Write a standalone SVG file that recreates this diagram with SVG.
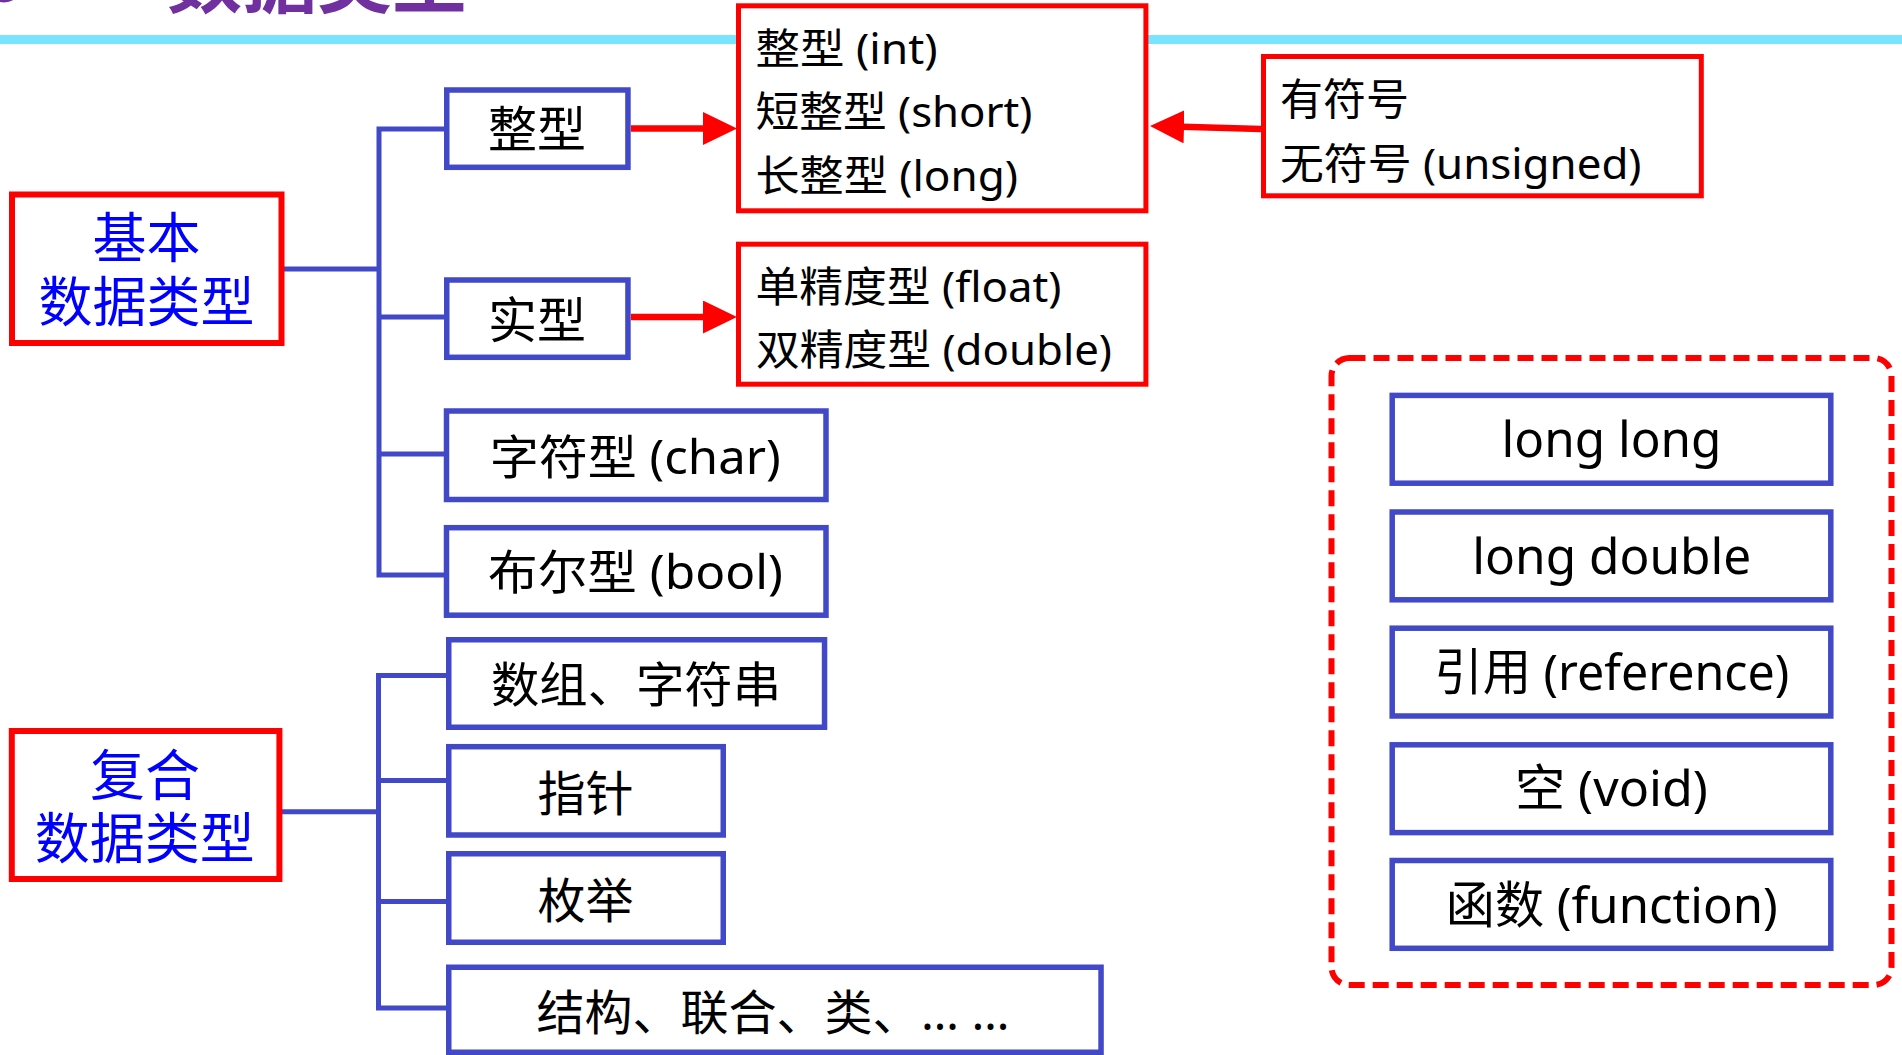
<svg xmlns="http://www.w3.org/2000/svg" width="1902" height="1055" viewBox="0 0 1902 1055">
<style>
text{font-family:"Noto Sans","Noto Sans CJK SC",sans-serif;fill:#000}
.blue{fill:#fff;stroke:#4149C8;stroke-width:5.5}
.red{fill:#fff;stroke:#FF0000;stroke-width:5}
.redb{fill:#fff;stroke:#FF0000;stroke-width:6}
.tree{fill:none;stroke:#4149C8;stroke-width:5;stroke-linecap:butt;stroke-linejoin:miter}
.arr{fill:none;stroke:#FF0000;stroke-width:6.5}
.cat{fill:#0000FF;font-size:54px;font-family:"Noto Sans CJK SC",sans-serif}
.c{text-anchor:middle}
</style>
<defs>
<marker id="head" markerUnits="userSpaceOnUse" viewBox="0 0 34 33" markerWidth="34" markerHeight="33" refX="2" refY="16.5" orient="auto">
<path d="M0,0 L34,16.5 L0,33 Z" fill="#FF0000"/>
</marker>
</defs>
<rect width="1902" height="1055" fill="#fff"/>
<g id="header">
<ellipse cx="4" cy="-16" rx="16" ry="16" fill="none" stroke="#7030A0" stroke-width="5"/>
<text x="167" y="6.5" style="font-size:76px;font-weight:700;fill:#7030A0;font-family:'Noto Sans CJK SC',sans-serif" textLength="300" lengthAdjust="spacingAndGlyphs">数据类型</text>
<rect x="0" y="35" width="1902" height="9" fill="#78E4FF"/>
</g>
<g id="connectors">
<path class="tree" d="M284,269 H379 M444,129 H379 V575 H444 M379,317 H444 M379,454 H444"/>
<path class="tree" d="M282,811.7 H378.5 M446,675.4 H378.5 V1008 H446 M378.5,780.5 H446 M378.5,901.5 H446"/>
<path class="arr" d="M631,128.5 H705" marker-end="url(#head)"/>
<path class="arr" d="M631,317 H705" marker-end="url(#head)"/>
<path class="arr" d="M1261,129 L1182,126.8" marker-end="url(#head)"/>
</g>
<g id="basic">
<rect class="redb" x="12" y="194.5" width="269.5" height="148.5"/>
<text class="cat c" x="146.6" y="258">基本</text>
<text class="cat c" x="146.5" y="322">数据类型</text>
</g>
<g id="compound">
<rect class="redb" x="11.8" y="731" width="267.6" height="148"/>
<text class="cat c" x="144.9" y="795" style="font-size:55px">复合</text>
<text class="cat c" x="144.8" y="858" style="font-size:55px">数据类型</text>
</g>
<g id="int">
<rect class="blue" x="446.75" y="90" width="181.2" height="77.3"/>
<text class="c" x="537" y="147" style="font-size:49px">整型</text>
</g>
<g id="real">
<rect class="blue" x="446.75" y="280" width="181.2" height="77.3"/>
<text class="c" x="537" y="338" style="font-size:49px">实型</text>
</g>
<g id="int-types">
<rect class="red" x="738.5" y="5.8" width="407.4" height="205"/>
<text x="755.5" y="63.5" style="font-size:42px" textLength="182" lengthAdjust="spacingAndGlyphs">整型 (int)</text>
<text x="755.5" y="127" style="font-size:42px" textLength="277" lengthAdjust="spacingAndGlyphs">短整型 (short)</text>
<text x="755.5" y="191" style="font-size:42px" textLength="262.5" lengthAdjust="spacingAndGlyphs">长整型 (long)</text>
</g>
<g id="real-types">
<rect class="red" x="738.5" y="244.2" width="407.4" height="140"/>
<text x="755.5" y="302" style="font-size:42px" textLength="306" lengthAdjust="spacingAndGlyphs">单精度型 (float)</text>
<text x="756" y="365" style="font-size:42px" textLength="356" lengthAdjust="spacingAndGlyphs">双精度型 (double)</text>
</g>
<g id="sign">
<rect class="red" x="1263.5" y="56.5" width="437.8" height="139.3"/>
<text x="1280" y="115" style="font-size:43px">有符号</text>
<text x="1280" y="178.5" style="font-size:42px" textLength="361.5" lengthAdjust="spacingAndGlyphs">无符号 (unsigned)</text>
</g>
<g id="char">
<rect class="blue" x="446.5" y="411" width="379.5" height="88.5"/>
<text class="c" x="635.2" y="474" style="font-size:47px" textLength="291" lengthAdjust="spacingAndGlyphs">字符型 (char)</text>
</g>
<g id="bool">
<rect class="blue" x="446.5" y="527.7" width="379.5" height="87.5"/>
<text class="c" x="635.5" y="589" style="font-size:47px" textLength="295" lengthAdjust="spacingAndGlyphs">布尔型 (bool)</text>
</g>
<g id="array">
<rect class="blue" x="448.75" y="639.75" width="375.8" height="87.5"/>
<text class="c" x="636" y="702" style="font-size:48px" textLength="290" lengthAdjust="spacingAndGlyphs">数组、字符串</text>
</g>
<g id="pointer">
<rect class="blue" x="448.75" y="746.7" width="274.5" height="88.3"/>
<text class="c" x="585.5" y="810.5" style="font-size:48px">指针</text>
</g>
<g id="enum">
<rect class="blue" x="448.75" y="853.75" width="274.5" height="88.5"/>
<text class="c" x="585.5" y="918" style="font-size:48px">枚举</text>
</g>
<g id="struct">
<rect class="blue" x="448.75" y="967.25" width="652.3" height="85"/>
<text x="536.5" y="1029.5" style="font-size:48px">结构、联合、类、<tspan x="921">… …</tspan></text>
</g>
<g id="extra">
<rect x="1331.5" y="358" width="560" height="627" rx="18" fill="none" stroke="#FF0000" stroke-width="6" stroke-dasharray="16 8"/>
<g id="longlong">
<rect class="blue" x="1392.2" y="395.4" width="438.6" height="87.8"/>
<text class="c" x="1611.5" y="457" style="font-size:50px" textLength="220" lengthAdjust="spacingAndGlyphs">long long</text>
</g>
<g id="longdouble">
<rect class="blue" x="1392.2" y="512" width="438.6" height="87.8"/>
<text class="c" x="1611.8" y="573.5" style="font-size:50px" textLength="279" lengthAdjust="spacingAndGlyphs">long double</text>
</g>
<g id="reference">
<rect class="blue" x="1392.2" y="628.2" width="438.6" height="87.8"/>
<text class="c" x="1611.8" y="689.5" style="font-size:50px" textLength="355" lengthAdjust="spacingAndGlyphs">引用 (reference)</text>
</g>
<g id="void">
<rect class="blue" x="1392.2" y="744.8" width="438.6" height="87.8"/>
<text class="c" x="1611.4" y="805.5" style="font-size:50px" textLength="193" lengthAdjust="spacingAndGlyphs">空 (void)</text>
</g>
<g id="function">
<rect class="blue" x="1392.2" y="860.5" width="438.6" height="87.8"/>
<text class="c" x="1611.8" y="922.5" style="font-size:50px" textLength="332" lengthAdjust="spacingAndGlyphs">函数 (function)</text>
</g>
</g>
</svg>
